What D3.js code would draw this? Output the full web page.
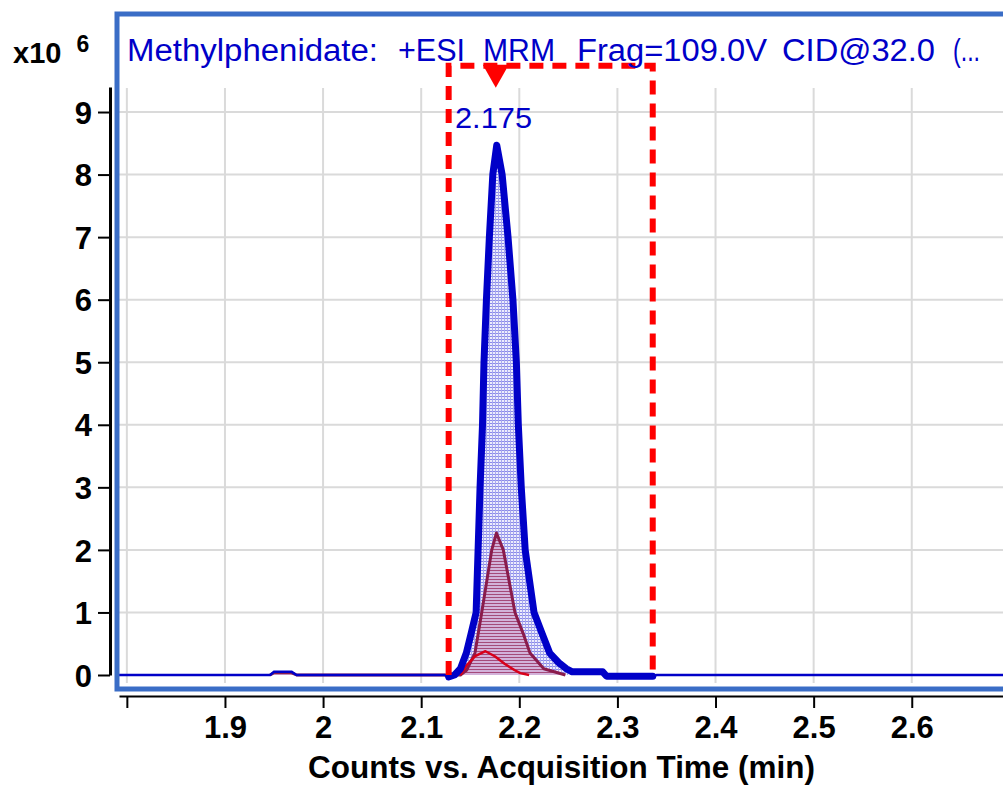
<!DOCTYPE html>
<html>
<head>
<meta charset="utf-8">
<script src="https://cdn.jsdelivr.net/npm/d3@7"></script>
<style>
  html, body { margin: 0; padding: 0; background: #fff; }
  svg { display: block; font-family: Arial, "Liberation Sans", sans-serif; }
</style>
</head>
<body>
<svg id="chart" width="1003" height="786"></svg>
<script>
    // ---------------- data (counts in x10^6, time in min) ----------------
    const blueTime = [1.792, 1.946, 1.950, 1.968, 1.973, 2.124, 2.128, 2.134, 2.140, 2.146, 2.151, 2.156, 2.158,
      2.160, 2.1625, 2.164, 2.1665, 2.1695, 2.173, 2.177, 2.1825, 2.1885, 2.1935, 2.197, 2.199, 2.202, 2.206,
      2.215, 2.223, 2.231, 2.240, 2.248, 2.254, 2.285, 2.289, 2.336, 2.340, 2.693];
    const blueCounts = [0, 0, 0.05, 0.05, 0, 0, -0.03, 0, 0.1, 0.35, 0.67, 1.0, 2.0,
      3.0, 4.0, 5.0, 6.0, 7.0, 8.0, 8.47, 8.0, 7.0, 6.0, 5.0, 4.0, 3.0, 2.0,
      1.0, 0.67, 0.35, 0.2, 0.1, 0.05, 0.05, -0.02, -0.02, 0, 0];

    // qualifier traces
    const qual1Time = [1.946, 1.950, 1.968, 1.973, 2.140, 2.1464, 2.1548, 2.1617, 2.1719, 2.1767, 2.1837,
      2.1956, 2.2038, 2.2109, 2.225, 2.247];
    const qual1Counts = [0, 0.035, 0.035, 0, 0, 0.08, 0.35, 1.0, 2.0, 2.27, 2.0,
      1.0, 0.67, 0.35, 0.1, 0];
    const qual2Time = [2.140, 2.146, 2.155, 2.1655, 2.175, 2.185, 2.195, 2.201, 2.210];
    const qual2Counts = [0, 0.15, 0.3, 0.38, 0.3, 0.18, 0.08, 0.03, 0];

    const integStart = 2.128, integEnd = 2.336, integTop = 9.74;
    const peakRT = 2.175;

    const xTicks = [1.8, 1.9, 2.0, 2.1, 2.2, 2.3, 2.4, 2.5, 2.6];
    const xTickLabels = ["", "1.9", "2", "2.1", "2.2", "2.3", "2.4", "2.5", "2.6"];
    const yTicks = [0, 1, 2, 3, 4, 5, 6, 7, 8, 9];

    const titleWords = ["Methylphenidate:", "+ESI", "MRM", "Frag=109.0V", "CID@32.0", "(..."];
    const xTitle = "Counts vs. Acquisition Time (min)";

    // ---------------- scales ----------------
    const svg = d3.select("#chart");
    const x = d3.scaleLinear().domain([1.792, 2.693]).range([119, 1003]);
    const y = d3.scaleLinear().domain([0, 9.4]).range([675, 87]);

    const blue = "#0000c8";
    const frameBlue = "#3a6dc6";
    const font = "Arial, 'Liberation Sans', sans-serif";

    const toPts = (ts, vs) => ts.map((t, i) => ({ t, v: vs[i] }));
    const bluePts = toPts(blueTime, blueCounts);
    const q1Pts = toPts(qual1Time, qual1Counts);
    const q2Pts = toPts(qual2Time, qual2Counts);
    const peakPts = bluePts.filter(d => d.t >= integStart && d.t <= integEnd);

    // patterns for the hatched fills
    const defs = svg.append("defs");
    const bp = defs.append("pattern").attr("id", "bluePat")
      .attr("width", 3).attr("height", 3).attr("patternUnits", "userSpaceOnUse");
    bp.append("rect").attr("width", 3).attr("height", 3).attr("fill", "#ececfc");
    bp.append("rect").attr("width", 3).attr("height", 1).attr("fill", "#8a8ae8");
    bp.append("rect").attr("width", 1).attr("height", 3).attr("fill", "#a8a8f0");

    const rp = defs.append("pattern").attr("id", "redPat")
      .attr("width", 3).attr("height", 3).attr("patternUnits", "userSpaceOnUse");
    rp.append("rect").attr("width", 3).attr("height", 3).attr("fill", "#d2b2da");
    rp.append("rect").attr("width", 3).attr("height", 1).attr("fill", "#a44a7a");

    const clip = defs.append("clipPath").attr("id", "plotClip");
    clip.append("rect").attr("x", 119).attr("y", 17).attr("width", 900).attr("height", 670);

    // ---------------- gridlines ----------------
    const grid = svg.append("g").attr("stroke", "#dadada").attr("stroke-width", 2);
    grid.selectAll("line.v").data(xTicks).enter().append("line")
      .attr("x1", d => x(d)).attr("x2", d => x(d))
      .attr("y1", y(9.4) + 1).attr("y2", y(0) + 8);
    grid.selectAll("line.h").data(yTicks.filter(d => d > 0)).enter().append("line")
      .attr("x1", x.range()[0]).attr("x2", 1003)
      .attr("y1", d => y(d)).attr("y2", d => y(d));

    // ---------------- traces ----------------
    const plot = svg.append("g").attr("clip-path", "url(#plotClip)");
    const line = d3.line().x(d => x(d.t)).y(d => y(d.v));
    const area = d3.area().x(d => x(d.t)).y0(y(0)).y1(d => y(d.v));

    plot.append("path").datum(peakPts).attr("d", area).attr("fill", "url(#bluePat)");
    plot.append("path").datum(q1Pts).attr("d", area).attr("fill", "url(#redPat)");
    plot.append("path").datum(q2Pts).attr("d", area).attr("fill", "url(#redPat)");

    plot.append("path").datum(q1Pts).attr("d", line)
      .attr("fill", "none").attr("stroke", "#8a1c4c").attr("stroke-width", 3).attr("stroke-linejoin", "round");
    plot.append("path").datum(q2Pts).attr("d", line)
      .attr("fill", "none").attr("stroke", "#d8001a").attr("stroke-width", 2.5).attr("stroke-linejoin", "round");

    plot.append("path").datum(bluePts).attr("d", line)
      .attr("fill", "none").attr("stroke", blue).attr("stroke-width", 2.5);
    plot.append("path").datum(peakPts).attr("d", line)
      .attr("fill", "none").attr("stroke", blue).attr("stroke-width", 7)
      .attr("stroke-linejoin", "round").attr("stroke-linecap", "round");

    // integration box
    svg.append("path")
      .attr("d", `M${x(integStart)},${y(0)}V${y(integTop)}H${x(integEnd)}V${y(0)}`)
      .attr("fill", "none").attr("stroke", "#ff0000").attr("stroke-width", 6)
      .attr("stroke-dasharray", "14,9");

    // retention time marker + label
    const mx = x(peakRT) + 1;
    svg.append("path")
      .attr("d", `M${mx - 13},${y(integTop) - 1}L${mx + 13},${y(integTop) - 1}L${mx},${y(integTop) + 22}Z`)
      .attr("fill", "#ff0000");
    svg.append("text")
      .attr("x", 455).attr("y", 128)
      .attr("fill", blue)
      .attr("font-size", 29)
      .attr("textLength", 77).attr("lengthAdjust", "spacingAndGlyphs")
      .text(peakRT.toFixed(3));

    // ---------------- frame ----------------
    svg.append("rect")
      .attr("x", 117).attr("y", 14).attr("width", 1000).attr("height", 675)
      .attr("fill", "none").attr("stroke", frameBlue).attr("stroke-width", 5);

    // title, word by word (the instrument software spaces the fields widely)
    const titleX = [127, 398, 483, 577, 782, 953];
    const titleW = [251, 67, 72, 190, 153, 27];
    svg.append("g").selectAll("text").data(titleWords).enter().append("text")
      .attr("x", (d, i) => titleX[i]).attr("y", 61)
      .attr("fill", blue).attr("font-size", 31)
      .attr("textLength", (d, i) => titleW[i]).attr("lengthAdjust", "spacingAndGlyphs")
      .text(d => d);

    // ---------------- axes ----------------
    const yAxis = svg.append("g")
      .attr("transform", "translate(110,0)")
      .call(d3.axisLeft(y).tickValues(yTicks).tickSize(12).tickSizeOuter(0).tickPadding(6));
    yAxis.select(".domain").attr("stroke", "#000").attr("stroke-width", 3);
    yAxis.selectAll(".tick line").attr("stroke", "#000").attr("stroke-width", 2);
    yAxis.selectAll(".tick text")
      .attr("font-size", 31).attr("font-weight", "bold").attr("font-family", font)
      .attr("fill", "#000").attr("dy", "0.36em");

    const xAxis = svg.append("g")
      .attr("transform", "translate(0,696)")
      .call(d3.axisBottom(x).tickValues(xTicks).tickSize(12).tickSizeOuter(0).tickPadding(8)
        .tickFormat((d, i) => xTickLabels[i]));
    xAxis.select(".domain").attr("stroke", "#000").attr("stroke-width", 2);
    xAxis.selectAll(".tick line").attr("stroke", "#000").attr("stroke-width", 2);
    xAxis.selectAll(".tick text")
      .attr("font-size", 31).attr("font-weight", "bold").attr("font-family", font)
      .attr("fill", "#000");

    svg.append("text")
      .attr("x", 308).attr("y", 778)
      .attr("font-size", 30.5).attr("font-weight", "bold")
      .attr("textLength", 507).attr("lengthAdjust", "spacingAndGlyphs")
      .text(xTitle);

    // y multiplier
    const mult = svg.append("text").attr("x", 13).attr("y", 63)
      .attr("font-size", 29).attr("font-weight", "bold");
    mult.append("tspan").text("x10");
    mult.append("tspan").attr("dx", 15).attr("dy", -11).attr("font-size", 23).text("6");
</script>
</body>
</html>
